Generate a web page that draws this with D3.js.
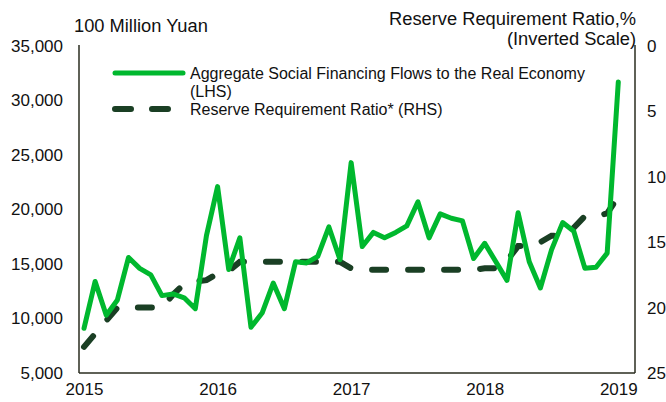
<!DOCTYPE html>
<html><head><meta charset="utf-8">
<script src="https://cdn.jsdelivr.net/npm/d3@7/dist/d3.min.js"></script>
<style>body{margin:0;background:#fff}svg{display:block;font-family:"Liberation Sans",Arial,sans-serif}</style>
</head><body><svg id="c" width="666" height="402"></svg>
<script>
const years = ["2015","2016","2017","2018","2019"];
// monthly, Jan 2015 .. Jan 2019
const asf = [9100,13400,10300,11700,15600,14600,14000,12100,12250,11900,10900,17600,
             22100,14500,17400,9200,10500,13250,10900,15200,15100,15700,18400,15400,
             24300,16600,17900,17400,17900,18500,20700,17400,19600,19200,18950,15500,
             16900,15200,13500,19700,15200,12800,16300,18800,18000,14600,14700,16000,31700];
const rrr = [23.0,22.0,21.0,20.0,20.0,20.0,20.0,20.0,19.0,18.2,18.0,17.9,
             17.4,17.2,16.5,16.5,16.5,16.5,16.5,16.5,16.5,16.5,16.5,16.5,
             17.0,17.1,17.1,17.1,17.1,17.1,17.1,17.1,17.1,17.1,17.1,17.1,
             17.0,17.0,16.4,15.3,15.3,15.0,14.5,14.5,13.9,13.0,13.0,12.8,11.5];
const leftTicks = [5000,10000,15000,20000,25000,30000,35000];
const rightTicks = [0,5,10,15,20,25];
const seriesNames = ["Aggregate Social Financing Flows to the Real Economy","(LHS)","Reserve Requirement Ratio* (RHS)"];

const svg = d3.select("#c");
const L = 79, R = 635, T = 46, B = 373;
const x = d3.scaleLinear().domain([-0.45, 49.5]).range([L, R]);
const yL = d3.scaleLinear().domain([5000, 35000]).range([B, T]);
const yR = d3.scaleLinear().domain([0, 25]).range([T, B]);
const axisCol = "#2a2d1f", green = "#00b82e", dark = "#1a3f24";

// axes lines
svg.append("line").attr("x1",L).attr("x2",L).attr("y1",T-1).attr("y2",B).attr("stroke",axisCol).attr("stroke-width",1.5);
svg.append("line").attr("x1",R).attr("x2",R).attr("y1",T-1).attr("y2",B).attr("stroke",axisCol).attr("stroke-width",1.5);
svg.append("line").attr("x1",L).attr("x2",R).attr("y1",B).attr("y2",B).attr("stroke",axisCol).attr("stroke-width",1.5);

const gl = svg.append("g").attr("transform",`translate(${L},0)`)
  .call(d3.axisLeft(yL).tickValues(leftTicks).tickFormat(d3.format(",")).tickSize(0).tickPadding(16));
gl.select(".domain").remove();
gl.selectAll("text").attr("font-size",17).attr("fill","#111").attr("font-family","Liberation Sans, Arial");

const gr = svg.append("g").attr("transform",`translate(${R},0)`)
  .call(d3.axisRight(yR).tickValues(rightTicks).tickSize(0).tickPadding(12));
gr.select(".domain").remove();
gr.selectAll("text").attr("font-size",17).attr("fill","#111").attr("font-family","Liberation Sans, Arial");

const gb = svg.append("g").attr("transform",`translate(0,${B})`)
  .call(d3.axisBottom(x).tickValues(years.map((d,i)=>i*12)).tickFormat((d,i)=>years[i]).tickSize(0).tickPadding(10));
gb.select(".domain").remove();
gb.selectAll("text").attr("font-size",17).attr("fill","#111").attr("font-family","Liberation Sans, Arial");

// titles
svg.append("text").attr("x",74).attr("y",32).attr("font-size",18.3).attr("fill","#111").text("100 Million Yuan");
svg.append("text").attr("x",636).attr("y",25).attr("text-anchor","end").attr("font-size",18.3).attr("fill","#111").text("Reserve Requirement Ratio,%");
svg.append("text").attr("x",636).attr("y",45).attr("text-anchor","end").attr("font-size",18.3).attr("fill","#111").text("(Inverted Scale)");

// lines
const lineL = d3.line().x((d,i)=>x(i)).y(d=>yL(d));
const lineR = d3.line().x((d,i)=>x(i)).y(d=>yR(d));
svg.append("path").datum(rrr).attr("d",lineR).attr("fill","none").attr("stroke",dark)
  .attr("stroke-width",6).attr("stroke-linecap","round").attr("stroke-dasharray","14,22");
svg.append("path").datum(asf).attr("d",lineL).attr("fill","none").attr("stroke",green)
  .attr("stroke-width",5).attr("stroke-linejoin","round").attr("stroke-linecap","round");

// legend
svg.append("line").attr("x1",115).attr("x2",183).attr("y1",73).attr("y2",73).attr("stroke",green).attr("stroke-width",5).attr("stroke-linecap","round");
svg.append("line").attr("x1",115).attr("x2",183).attr("y1",109).attr("y2",109).attr("stroke",dark).attr("stroke-width",6).attr("stroke-linecap","round").attr("stroke-dasharray","16,21");
svg.append("text").attr("x",190).attr("y",79).attr("font-size",16).attr("fill","#111").text(seriesNames[0]);
svg.append("text").attr("x",190).attr("y",97).attr("font-size",16).attr("fill","#111").text(seriesNames[1]);
svg.append("text").attr("x",190).attr("y",115).attr("font-size",16).attr("fill","#111").text(seriesNames[2]);
</script></body></html>
